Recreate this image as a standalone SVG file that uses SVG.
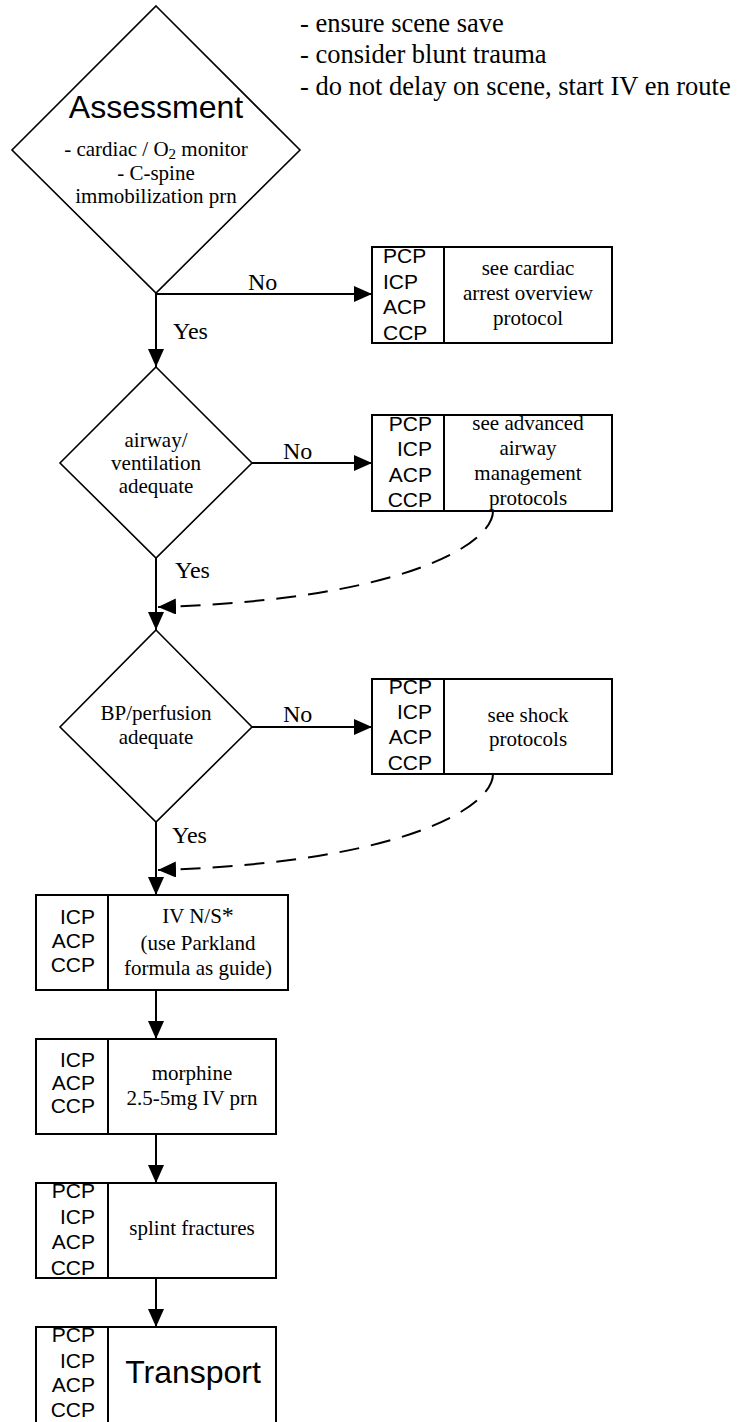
<svg xmlns="http://www.w3.org/2000/svg" width="740" height="1422" viewBox="0 0 740 1422">
<style>
.shape{fill:#fff;stroke:#000;stroke-width:2}
.dia{fill:#fff;stroke:#000;stroke-width:1.6}
.ln{fill:none;stroke:#000;stroke-width:2}
.dash{fill:none;stroke:#000;stroke-width:2;stroke-dasharray:20 12}
.serif{font-family:"Liberation Serif","Times New Roman",serif;font-size:21px;fill:#000}
.note{font-family:"Liberation Serif","Times New Roman",serif;font-size:26.5px;fill:#000}
.lab{font-family:"Liberation Serif","Times New Roman",serif;font-size:24px;fill:#000}
.sans{font-family:"Liberation Sans",Arial,sans-serif;font-size:21px;fill:#000}
.big{font-family:"Liberation Sans",Arial,sans-serif;font-size:32px;fill:#000}
.c{text-anchor:middle}
.e{text-anchor:end}
</style>
<defs>
<marker id="arr" markerUnits="userSpaceOnUse" markerWidth="18" markerHeight="16" viewBox="0 0 18 16" refX="18" refY="8" orient="auto">
<path d="M0,0 L18,8 L0,16 Z" fill="#000"/>
</marker>
</defs>

<g id="notes">
<text class="note" x="300" y="32">- ensure scene save</text>
<text class="note" x="300" y="63">- consider blunt trauma</text>
<text class="note" x="300" y="95">- do not delay on scene, start IV en route</text>
</g>

<g id="assessment">
<polygon class="dia" points="156,6 300,150 156,293 12,150"/>
<text class="big c" x="156" y="118">Assessment</text>
<text class="serif c" x="156" y="156">- cardiac / O<tspan font-size="15" dy="3">2</tspan><tspan dy="-3"> monitor</tspan></text>
<text class="serif c" x="156" y="180">- C-spine</text>
<text class="serif c" x="156" y="203">immobilization prn</text>
</g>

<g id="cardiac-arrest">
<rect class="shape" x="372" y="247" width="240" height="96"/>
<line class="ln" x1="444" y1="247" x2="444" y2="343"/>
<text class="sans" x="383" y="263">PCP</text>
<text class="sans" x="383" y="289">ICP</text>
<text class="sans" x="383" y="314">ACP</text>
<text class="sans" x="383" y="340">CCP</text>
<text class="serif c" x="528" y="275">see cardiac</text>
<text class="serif c" x="528" y="300">arrest overview</text>
<text class="serif c" x="528" y="325">protocol</text>
</g>

<g id="airway">
<polygon class="dia" points="156,367 252,463 156,558 60,463"/>
<text class="serif c" x="156" y="447">airway/</text>
<text class="serif c" x="156" y="470">ventilation</text>
<text class="serif c" x="156" y="493">adequate</text>
</g>

<g id="advanced-airway">
<rect class="shape" x="372" y="415" width="240" height="96"/>
<line class="ln" x1="444" y1="415" x2="444" y2="511"/>
<text class="sans e" x="432" y="431">PCP</text>
<text class="sans e" x="432" y="456">ICP</text>
<text class="sans e" x="432" y="482">ACP</text>
<text class="sans e" x="432" y="507">CCP</text>
<text class="serif c" x="528" y="430">see advanced</text>
<text class="serif c" x="528" y="455">airway</text>
<text class="serif c" x="528" y="480">management</text>
<text class="serif c" x="528" y="505">protocols</text>
</g>

<g id="bp">
<polygon class="dia" points="156,630 252,727 156,822 60,727"/>
<text class="serif c" x="156" y="720">BP/perfusion</text>
<text class="serif c" x="156" y="744">adequate</text>
</g>

<g id="shock">
<rect class="shape" x="372" y="679" width="240" height="95"/>
<line class="ln" x1="444" y1="679" x2="444" y2="774"/>
<text class="sans e" x="432" y="694">PCP</text>
<text class="sans e" x="432" y="719">ICP</text>
<text class="sans e" x="432" y="744">ACP</text>
<text class="sans e" x="432" y="770">CCP</text>
<text class="serif c" x="528" y="722">see shock</text>
<text class="serif c" x="528" y="746">protocols</text>
</g>

<g id="iv">
<rect class="shape" x="36" y="895" width="252" height="95"/>
<line class="ln" x1="108" y1="895" x2="108" y2="990"/>
<text class="sans e" x="95" y="924">ICP</text>
<text class="sans e" x="95" y="948">ACP</text>
<text class="sans e" x="95" y="972">CCP</text>
<text class="serif c" x="198" y="923">IV N/S<tspan font-size="24">*</tspan></text>
<text class="serif c" x="198" y="950">(use Parkland</text>
<text class="serif c" x="198" y="975">formula as guide)</text>
</g>

<g id="morphine">
<rect class="shape" x="36" y="1039" width="240" height="95"/>
<line class="ln" x1="108" y1="1039" x2="108" y2="1134"/>
<text class="sans e" x="95" y="1067">ICP</text>
<text class="sans e" x="95" y="1090">ACP</text>
<text class="sans e" x="95" y="1113">CCP</text>
<text class="serif c" x="192" y="1080">morphine</text>
<text class="serif c" x="192" y="1105">2.5-5mg IV prn</text>
</g>

<g id="splint">
<rect class="shape" x="36" y="1183" width="240" height="95"/>
<line class="ln" x1="108" y1="1183" x2="108" y2="1278"/>
<text class="sans e" x="95" y="1198">PCP</text>
<text class="sans e" x="95" y="1224">ICP</text>
<text class="sans e" x="95" y="1249">ACP</text>
<text class="sans e" x="95" y="1275">CCP</text>
<text class="serif c" x="192" y="1235">splint fractures</text>
</g>

<g id="transport">
<rect class="shape" x="36" y="1327" width="240" height="120"/>
<line class="ln" x1="108" y1="1327" x2="108" y2="1447"/>
<text class="sans e" x="95" y="1342">PCP</text>
<text class="sans e" x="95" y="1368">ICP</text>
<text class="sans e" x="95" y="1392">ACP</text>
<text class="sans e" x="95" y="1417">CCP</text>
<text class="big c" x="193" y="1383">Transport</text>
</g>

<g id="connectors">
<line class="ln" x1="156" y1="294" x2="372" y2="294" marker-end="url(#arr)"/>
<line class="ln" x1="156" y1="293" x2="156" y2="367" marker-end="url(#arr)"/>
<line class="ln" x1="252" y1="463" x2="372" y2="463" marker-end="url(#arr)"/>
<line class="ln" x1="156" y1="558" x2="156" y2="630" marker-end="url(#arr)"/>
<line class="ln" x1="252" y1="727" x2="372" y2="727" marker-end="url(#arr)"/>
<line class="ln" x1="156" y1="822" x2="156" y2="895" marker-end="url(#arr)"/>
<line class="ln" x1="156" y1="990" x2="156" y2="1039" marker-end="url(#arr)"/>
<line class="ln" x1="156" y1="1134" x2="156" y2="1183" marker-end="url(#arr)"/>
<line class="ln" x1="156" y1="1278" x2="156" y2="1327" marker-end="url(#arr)"/>
<path class="dash" d="M493,511 C493,545 400,600 158,607" marker-end="url(#arr)"/>
<path class="dash" d="M493,774 C493,808 400,863 158,870" marker-end="url(#arr)"/>
<text class="lab" x="248" y="290">No</text>
<text class="lab" x="173" y="339">Yes</text>
<text class="lab" x="283" y="459">No</text>
<text class="lab" x="175" y="578">Yes</text>
<text class="lab" x="283" y="722">No</text>
<text class="lab" x="172" y="843">Yes</text>
</g>
</svg>
